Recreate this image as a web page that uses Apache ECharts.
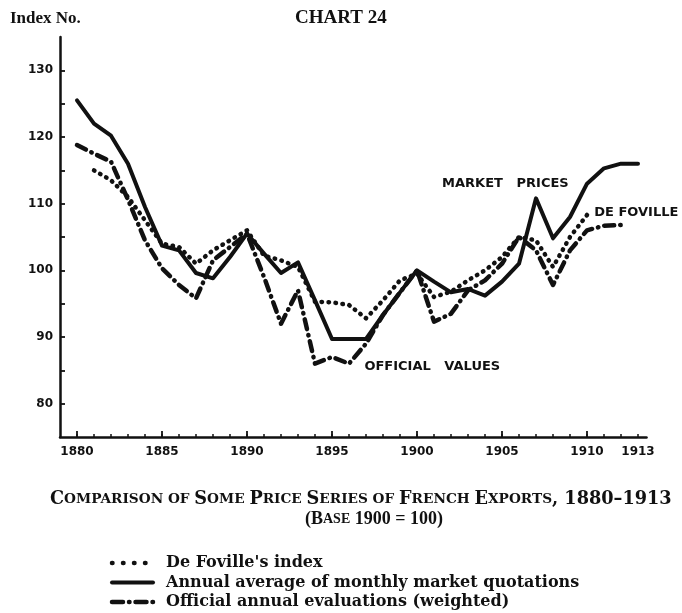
<!DOCTYPE html>
<html>
<head>
<meta charset="utf-8">
<script src="https://cdn.jsdelivr.net/npm/echarts@6/dist/echarts.min.js"></script>
<style>
html,body{margin:0;padding:0;background:#fff;}
#c{width:682px;height:613px;}
</style>
</head>
<body>
<div id="c"></div>
<script>
// ---- data ----
var years = [1880,1881,1882,1883,1884,1885,1886,1887,1888,1889,1890,1891,1892,1893,1894,1895,1896,1897,1898,1899,1900,1901,1902,1903,1904,1905,1906,1907,1908,1909,1910,1911,1912,1913];
var marketPrices = [125.5,122,120.2,116,109.5,103.7,103,99.6,98.8,102,105.5,102.5,99.6,101.2,95.5,89.7,89.7,89.7,93.3,96.7,100,98.3,96.7,97.2,96.2,98.3,101,110.8,104.8,108,113,115.3,116,116];
var fovilleYears = [1881,1882,1883,1884,1885,1886,1887,1888,1889,1890,1891,1892,1893,1894,1895,1896,1897,1898,1899,1900,1901,1902,1903,1904,1905,1906,1907,1908,1909,1910];
var fovilleIndex = [115,113.5,111,107.5,104,103.5,101,103,104.5,106,102.2,101.5,100.5,95.3,95.2,94.8,92.8,95.5,98.5,99.5,96,96.8,98.5,100,102,105,104.5,100.5,105,108.3];
var officialYears = [1880,1881,1882,1883,1884,1885,1886,1887,1888,1889,1890,1891,1892,1893,1894,1895,1896,1897,1898,1899,1900,1901,1902,1903,1904,1905,1906,1907,1908,1909,1910,1911,1912];
var officialValues = [118.8,117.5,116.3,110.6,104.5,100.3,97.8,95.8,101.5,103.5,105.5,99,92,97,86,87,86,89,93.3,96.7,100,92.3,93.5,97,98.5,101,105,103,97.8,103,106,106.7,106.8];
var xLabelYears = [1880,1885,1890,1895,1900,1905,1910,1913];
var xMajorTicks = [1880,1885,1890,1895,1900,1905,1910];
var yLabels = [80,90,100,110,120,130];
var yTicks = [80,85,90,95,100,105,110,115,120,125,130];
var legendNames = ["De Foville's index", "Annual average of monthly market quotations", "Official annual evaluations (weighted)"];

function pairs(xs, ys){ return xs.map(function(x,i){ return [x, ys[i]]; }); }

var serif = '"Liberation Serif","DejaVu Serif",serif';
var wideSerif = '"DejaVu Serif","Liberation Serif",serif';
var sans = '"DejaVu Sans","Liberation Sans",sans-serif';
var ink = '#111';

var chart = echarts.init(document.getElementById('c'), null, {renderer:'canvas'});
var inPlotLabel = {fontFamily: sans, fontWeight:'bold', fontSize:13, color: ink};

var lineStyles = [
  {lineDash:[0.5,10.5], lineWidth:4.5},
  {lineDash:null, lineWidth:4},
  {lineDash:[11,6,0.5,6], lineWidth:4.5}
];
var legendGraphics = [];
legendNames.forEach(function(n, i){
  var y = 563 + i*19.5;
  var st = {stroke: ink, lineWidth: lineStyles[i].lineWidth, lineCap: 'round'};
  if (lineStyles[i].lineDash) st.lineDash = lineStyles[i].lineDash;
  legendGraphics.push({type:'line', silent:true, shape:{x1:112, y1:y, x2:153, y2:y}, style: st});
  legendGraphics.push({type:'text', silent:true, style:{text:n, x:166, y:y, fill:ink, font:'bold 16px ' + wideSerif, verticalAlign:'middle'}});
});

chart.setOption({
  backgroundColor:'#fff',
  animation:false,
  title:[
    {text:'Index No.', left:5, top:5, textStyle:{fontFamily:serif,fontWeight:'bold',fontSize:17,color:ink}},
    {text:'CHART 24', left:290, top:4, textStyle:{fontFamily:serif,fontWeight:'bold',fontSize:19,color:ink}},
    {text:'{b|C}{s|OMPARISON OF }{b|S}{s|OME }{b|P}{s|RICE }{b|S}{s|ERIES OF }{b|F}{s|RENCH }{b|E}{s|XPORTS}{b|, 1880–1913}',
      left:45, top:485,
      textStyle:{rich:{b:{fontFamily:wideSerif,fontWeight:'bold',fontSize:17.7,color:ink},s:{fontFamily:wideSerif,fontWeight:'bold',fontSize:13.7,color:ink}}}},
    {text:'{b|(B}{s|ASE}{b| 1900 = 100)}', left:300, top:505,
      textStyle:{rich:{b:{fontFamily:serif,fontWeight:'bold',fontSize:18,color:ink},s:{fontFamily:serif,fontWeight:'bold',fontSize:14,color:ink}}}}
  ],
  graphic: legendGraphics,
  grid:{left:60, top:37, right:35.5, bottom:176, containLabel:false, outerBoundsMode:'none'},
  xAxis:[
    {type:'value', min:1879, max:1913.5, interval:1,
     axisLine:{show:true,lineStyle:{color:ink,width:2.5}},
     axisTick:{show:true,inside:true,length:3,customValues:years,lineStyle:{color:ink,width:1.5}},
     axisLabel:{show:true,customValues:xLabelYears,margin:9,fontFamily:sans,fontWeight:'bold',fontSize:12,color:ink,formatter:function(v){return String(v);}},
     splitLine:{show:false}},
    {type:'value', min:1879, max:1913.5, interval:1, position:'bottom',
     axisLine:{show:false},
     axisTick:{show:true,inside:true,length:6,customValues:xMajorTicks,lineStyle:{color:ink,width:1.8}},
     axisLabel:{show:false}, splitLine:{show:false}}
  ],
  yAxis:{type:'value', min:75, max:135, interval:5,
    axisLine:{show:true,lineStyle:{color:ink,width:2.5}},
    axisTick:{show:true,inside:true,length:5,customValues:yTicks,lineStyle:{color:ink,width:1.8}},
    axisLabel:{show:true,customValues:yLabels,margin:7,fontFamily:sans,fontWeight:'bold',fontSize:12,color:ink},
    splitLine:{show:false}},
  series:[
    {name:legendNames[0], type:'line', xAxisIndex:0, symbol:'none', smooth:false,
     data:pairs(fovilleYears, fovilleIndex),
     lineStyle:{color:ink,width:4.5,type:[0.5,6.5],cap:'round',join:'round'},
     itemStyle:{color:ink},
     markPoint:{silent:true,symbol:'circle',symbolSize:1,itemStyle:{color:'rgba(0,0,0,0)'},
       data:[{coord:[1912.9,108.7],label:{show:true,position:'inside',formatter:'DE FOVILLE',textStyle:inPlotLabel}}],
       label:inPlotLabel}},
    {name:legendNames[1], type:'line', xAxisIndex:0, symbol:'none', smooth:false,
     data:pairs(years, marketPrices),
     lineStyle:{color:ink,width:4,type:'solid',cap:'round',join:'round'},
     itemStyle:{color:ink},
     markPoint:{silent:true,symbol:'circle',symbolSize:1,itemStyle:{color:'rgba(0,0,0,0)'},
       data:[{coord:[1905.2,113.0],label:{show:true,position:'inside',formatter:'MARKET   PRICES',textStyle:inPlotLabel}}],
       label:inPlotLabel}},
    {name:legendNames[2], type:'line', xAxisIndex:0, symbol:'none', smooth:false,
     data:pairs(officialYears, officialValues),
     lineStyle:{color:ink,width:4.5,type:[10,6,0.5,6],cap:'round',join:'round'},
     itemStyle:{color:ink},
     markPoint:{silent:true,symbol:'circle',symbolSize:1,itemStyle:{color:'rgba(0,0,0,0)'},
       data:[{coord:[1900.9,85.5],label:{show:true,position:'inside',formatter:'OFFICIAL   VALUES',textStyle:inPlotLabel}}],
       label:inPlotLabel}}
  ]
});
</script>
</body>
</html>
